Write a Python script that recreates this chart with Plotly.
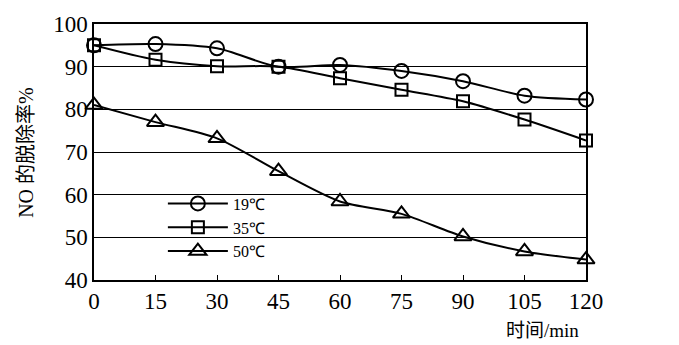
import plotly.graph_objects as go

times = [0, 15, 30, 45, 60, 75, 90, 105, 120]
t19 = [95.0, 95.3, 94.3, 90.0, 90.4, 89.0, 86.6, 83.2, 82.3]
t35 = [95.0, 91.6, 90.1, 90.0, 87.3, 84.6, 81.9, 77.6, 72.7]
t50 = [81.0, 77.0, 73.2, 65.5, 58.4, 55.5, 50.2, 46.7, 44.8]
names = ["19℃", "35℃", "50℃"]
xticks = [0, 15, 30, 45, 60, 75, 90, 105, 120]
yticks = [40, 50, 60, 70, 80, 90, 100]

serif = "Liberation Serif, Times New Roman, serif"
fig = go.Figure()
for vals, name, sym, sz in [(t19, names[0], "circle-open", 14),
                            (t35, names[1], "square-open", 12),
                            (t50, names[2], "triangle-up-open", 15)]:
    fig.add_trace(go.Scatter(
        x=times, y=vals, name=name, mode="lines+markers", cliponaxis=False,
        line=dict(color="black", width=2, shape="spline", smoothing=0.8),
        marker=dict(symbol=sym, size=sz, color="black", line=dict(color="black", width=2)),
    ))

fig.update_layout(
    width=679, height=345,
    margin=dict(l=94, r=93, t=22, b=65),
    paper_bgcolor="white", plot_bgcolor="white",
    font=dict(family=serif, color="black"),
    showlegend=True,
    legend=dict(x=0.14, y=0.365, xanchor="left", yanchor="top",
                bgcolor="rgba(0,0,0,0)", font=dict(size=16, family=serif),
                itemwidth=60, tracegroupgap=0),
    xaxis=dict(range=[0, 120], tickvals=xticks, ticks="inside", ticklen=5,
               tickcolor="black", showline=True, linecolor="black", linewidth=1.5,
               mirror=True, showgrid=False, zeroline=False,
               tickfont=dict(size=23, family=serif)),
    yaxis=dict(range=[40, 100], tickvals=yticks, ticks="", showline=True,
               linecolor="black", linewidth=1.5, mirror=True,
               showgrid=True, gridcolor="black", gridwidth=1, zeroline=False,
               tickfont=dict(size=23, family=serif)),
)
fig.add_annotation(text="NO 的脱除率%", xref="paper", yref="paper", x=-0.165, y=0.5,
                   textangle=-90, showarrow=False,
                   font=dict(size=20, family="Liberation Serif, Noto Sans CJK SC"))
fig.add_annotation(text="时间/min", xref="paper", yref="paper", x=0.99, y=-0.245,
                   xanchor="right", showarrow=False,
                   font=dict(size=19, family="Liberation Serif, Noto Sans CJK SC"))
fig.write_html("out.html", config={"displayModeBar": False},
               post_script="document.body.style.margin='0';")
